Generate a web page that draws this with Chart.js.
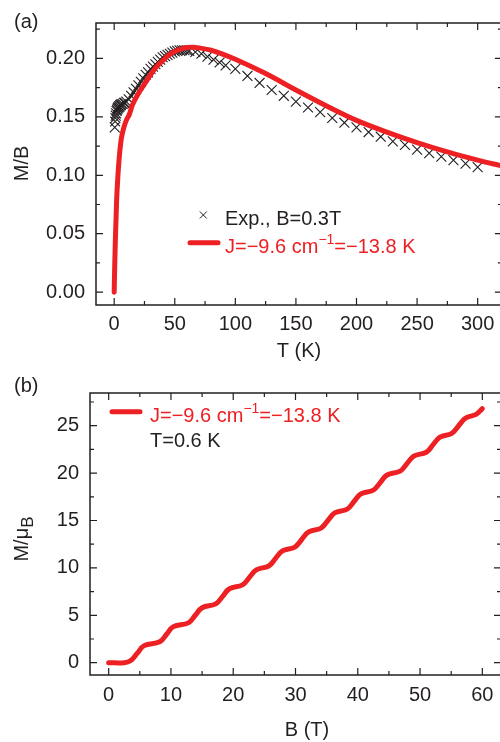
<!DOCTYPE html>
<html>
<head>
<meta charset="utf-8">
<script src="https://cdn.jsdelivr.net/npm/chart.js@4/dist/chart.umd.min.js"></script>
<style>
html, body { margin: 0; padding: 0; background: #fff; overflow: hidden; width: 500px; height: 742px; }
#wrapA { position: absolute; left: 0; top: 0; width: 510px; height: 370px; }
#wrapB { position: absolute; left: 0; top: 370px; width: 510px; height: 372px; }
</style>
</head>
<body>
<div id="wrapA"><canvas id="chartA" width="510" height="370"></canvas></div>
<div id="wrapB"><canvas id="chartB" width="510" height="372"></canvas></div>
<script>
// panel (a): M/B vs T
const expT = [0.5, 0.8, 1.0, 1.3, 1.6, 2.0, 2.4, 2.8, 3.2, 3.6, 4.0, 4.5, 5, 5.5, 6, 7, 8, 9, 10,
    12, 14, 16, 18, 20, 22, 24, 26, 28, 30, 32, 34, 36, 38, 40, 42, 44, 46, 48, 50, 52, 54, 56, 58, 60,
    62, 67, 72, 77, 82, 87, 92, 100, 110, 120, 130, 140, 150, 160, 170, 180, 190, 200,
    210, 220, 230, 240, 250, 260, 270, 280, 290, 300];
const expM = [0.141, 0.146, 0.149, 0.151, 0.153, 0.155, 0.156, 0.157, 0.158, 0.158, 0.159, 0.159, 0.160, 0.160, 0.161, 0.161, 0.162, 0.162, 0.163,
    0.165, 0.168, 0.171, 0.174, 0.177, 0.180, 0.183, 0.186, 0.188, 0.191, 0.193, 0.195, 0.197, 0.199, 0.201, 0.202, 0.203, 0.204, 0.205, 0.206, 0.2065, 0.207, 0.207, 0.207, 0.207,
    0.2065, 0.2055, 0.204, 0.2015, 0.199, 0.1965, 0.194, 0.191, 0.185, 0.179, 0.173, 0.168, 0.163, 0.158, 0.154, 0.149, 0.145, 0.141,
    0.137, 0.133, 0.129, 0.126, 0.122, 0.119, 0.116, 0.113, 0.110, 0.107];
const fitT = [0, 0.5, 1, 2, 3, 4, 5, 6, 8, 10, 12.5, 15, 20, 25, 30, 35, 40, 45, 50, 55, 60, 65, 70, 80, 90, 100,
    125, 150, 175, 200, 225, 250, 275, 300, 320];
const fitM = [0, 0.025, 0.045, 0.078, 0.098, 0.113, 0.124, 0.132, 0.141, 0.147, 0.152, 0.160, 0.170, 0.178, 0.186, 0.193, 0.198, 0.203, 0.206, 0.208, 0.2093, 0.2095, 0.209, 0.207, 0.2035, 0.1993,
    0.187, 0.173, 0.1595, 0.147, 0.137, 0.128, 0.120, 0.113, 0.108];
const tickTA = [0, 50, 100, 150, 200, 250, 300];
const tickMA = [0, 0.05, 0.10, 0.15, 0.20];

// panel (b): M/muB vs B
const fieldB = [0, 2.5, 3.5, 4.6, 5.7, 8.2, 9.3, 10.4, 12.8, 13.9, 15.0, 17.2, 18.3, 19.4, 21.5, 22.6, 23.7,
    25.7, 26.8, 27.9, 29.9, 31.0, 32.1, 34.1, 35.2, 36.3, 38.3, 39.4, 40.5, 42.5, 43.6, 44.7,
    46.8, 47.9, 49.0, 51.0, 52.1, 53.2, 55.1, 56.2, 57.3, 59.0, 60];
const magM = [0, 0, 0.2, 1, 1.8, 2.2, 3, 3.8, 4.2, 5, 5.8, 6.2, 7, 7.8, 8.2, 9, 9.8,
    10.2, 11, 11.8, 12.2, 13, 13.8, 14.2, 15, 15.8, 16.2, 17, 17.8, 18.2, 19, 19.8,
    20.2, 21, 21.8, 22.2, 23, 23.8, 24.2, 25, 25.8, 26.2, 26.8];
const tickBB = [0, 10, 20, 30, 40, 50, 60];
const tickMB = [0, 5, 10, 15, 20, 25];

const legendExp = 'Exp., B=0.3T';
const legendFitPre = 'J=\u22129.6 cm';
const legendFitSup = '\u22121';
const legendFitPost = '=\u221213.8 K';
const legendTemp = 'T=0.6 K';

const FAMILY = '"Liberation Sans", Arial, Helvetica, sans-serif';
const INK = '#231f20';
const RED = '#ed2024';

function font(size) { return size + 'px ' + FAMILY; }

// frame on four sides with inward major/minor ticks
const frameTicks = {
    id: 'frameTicks',
    afterDraw(chart, args, opts) {
        const ctx = chart.ctx;
        const a = chart.chartArea;
        const sx = chart.scales.x, sy = chart.scales.y;
        ctx.save();
        ctx.strokeStyle = INK;
        ctx.lineWidth = 1.5;
        ctx.strokeRect(a.left, a.top, a.right - a.left, a.bottom - a.top);
        ctx.lineWidth = 1.2;
        ctx.beginPath();
        const each = (scale, step, major, fn) => {
            let v = Math.ceil(scale.min / step) * step;
            for (; v <= scale.max + 1e-9; v += step) {
                const isMajor = Math.abs(v / major - Math.round(v / major)) < 1e-6;
                fn(scale.getPixelForValue(v), isMajor ? 7 : 4);
            }
        };
        each(sx, opts.xStep, opts.xMajor, (p, len) => {
            ctx.moveTo(p, a.bottom); ctx.lineTo(p, a.bottom - len);
            ctx.moveTo(p, a.top); ctx.lineTo(p, a.top + len);
        });
        each(sy, opts.yStep, opts.yMajor, (p, len) => {
            ctx.moveTo(a.left, p); ctx.lineTo(a.left + len, p);
            ctx.moveTo(a.right, p); ctx.lineTo(a.right - len, p);
        });
        ctx.stroke();
        ctx.restore();
    }
};

function drawFitLabel(ctx, x, y) {
    ctx.fillStyle = RED;
    ctx.font = font(20);
    ctx.fillText(legendFitPre, x, y);
    let w = ctx.measureText(legendFitPre).width;
    ctx.font = font(14);
    ctx.fillText(legendFitSup, x + w, y - 9);
    w += ctx.measureText(legendFitSup).width;
    ctx.font = font(20);
    ctx.fillText(legendFitPost, x + w, y);
}

function axisFixed(list, size, pad, fmt) {
    return {
        afterBuildTicks: s => { s.ticks = list.map(v => ({ value: v })); },
        afterFit: s => {
            if (s.isHorizontal()) s.height = size; else s.width = size;
        },
        grid: { display: false, drawTicks: false },
        border: { display: false },
        ticks: {
            font: { family: FAMILY, size: 20 },
            color: INK,
            padding: pad,
            autoSkip: false,
            maxRotation: 0,
            callback: fmt
        }
    };
}

const decorA = {
    id: 'decorA',
    afterDraw(chart) {
        const ctx = chart.ctx;
        ctx.save();
        ctx.fillStyle = INK;
        ctx.font = font(20);
        ctx.textBaseline = 'alphabetic';
        ctx.textAlign = 'left';
        ctx.fillText('(a)', 14, 28);
        ctx.textAlign = 'center';
        ctx.fillText('T (K)', 299, 357);
        ctx.save();
        ctx.translate(28, 163.5);
        ctx.rotate(-Math.PI / 2);
        ctx.fillText('M/B', 0, 0);
        ctx.restore();
        // legend
        ctx.textAlign = 'left';
        ctx.strokeStyle = INK;
        ctx.lineWidth = 1;
        ctx.beginPath();
        ctx.moveTo(199.8, 211.5); ctx.lineTo(206.8, 218.5);
        ctx.moveTo(206.8, 211.5); ctx.lineTo(199.8, 218.5);
        ctx.stroke();
        ctx.fillText(legendExp, 225, 225);
        ctx.strokeStyle = RED;
        ctx.lineWidth = 5;
        ctx.lineCap = 'round';
        ctx.beginPath();
        ctx.moveTo(190, 242.7); ctx.lineTo(218, 242.7);
        ctx.stroke();
        drawFitLabel(ctx, 225, 253.3);
        ctx.restore();
    }
};

const decorB = {
    id: 'decorB',
    afterDraw(chart) {
        const ctx = chart.ctx;
        ctx.save();
        ctx.fillStyle = INK;
        ctx.font = font(20);
        ctx.textBaseline = 'alphabetic';
        ctx.textAlign = 'left';
        ctx.fillText('(b)', 14, 21.5);
        ctx.textAlign = 'center';
        ctx.fillText('B (T)', 307, 366);
        ctx.save();
        ctx.translate(28, 169);
        ctx.rotate(-Math.PI / 2);
        ctx.textAlign = 'left';
        const w1 = ctx.measureText('M/\u03bc').width;
        ctx.font = font(17);
        const w2 = ctx.measureText('B').width;
        const x0 = -(w1 + w2) / 2;
        ctx.font = font(20);
        ctx.fillText('M/\u03bc', x0, 0);
        ctx.font = font(17);
        ctx.fillText('B', x0 + w1, 5);
        ctx.restore();
        // legend
        ctx.textAlign = 'left';
        ctx.strokeStyle = RED;
        ctx.lineWidth = 5;
        ctx.lineCap = 'round';
        ctx.beginPath();
        ctx.moveTo(112, 41.7); ctx.lineTo(140, 41.7);
        ctx.stroke();
        drawFitLabel(ctx, 150, 51.7);
        ctx.fillStyle = INK;
        ctx.font = font(20);
        ctx.fillText(legendTemp, 150, 77.3);
        ctx.restore();
    }
};

new Chart(document.getElementById('chartA'), {
    type: 'line',
    data: {
        datasets: [{
            label: 'fit',
            data: fitT.map((t, i) => ({ x: t, y: fitM[i] })),
            borderColor: RED,
            borderWidth: 5,
            borderCapStyle: 'round',
            pointRadius: 0,
            cubicInterpolationMode: 'monotone',
            order: 0
        }, {
            label: 'exp',
            data: expT.map((t, i) => ({ x: t, y: expM[i] })),
            showLine: false,
            pointStyle: 'crossRot',
            pointRadius: 7,
            pointBorderWidth: 1.1,
            borderColor: INK,
            backgroundColor: INK,
            order: 1
        }]
    },
    options: {
        responsive: false,
        devicePixelRatio: 1,
        animation: false,
        layout: { padding: { top: 22, right: 7.5, left: 0, bottom: 0 } },
        scales: {
            x: Object.assign({ type: 'linear', min: -15, max: 320 }, axisFixed(tickTA, 65, 7, v => String(v))),
            y: Object.assign({ type: 'linear', min: -0.011, max: 0.2303 }, axisFixed(tickMA, 96, 11, v => v.toFixed(2)))
        },
        plugins: {
            legend: { display: false },
            tooltip: { enabled: false },
            frameTicks: { xStep: 25, xMajor: 50, yStep: 0.025, yMajor: 0.05 }
        }
    },
    plugins: [frameTicks, decorA]
});

new Chart(document.getElementById('chartB'), {
    type: 'line',
    data: {
        datasets: [{
            label: 'fit',
            data: fieldB.map((b, i) => ({ x: b, y: magM[i] })),
            borderColor: RED,
            borderWidth: 5,
            borderCapStyle: 'round',
            pointRadius: 0,
            tension: 0.4
        }]
    },
    options: {
        responsive: false,
        devicePixelRatio: 1,
        animation: false,
        layout: { padding: { top: 17.3, right: 9, left: 0, bottom: 0 } },
        scales: {
            x: Object.assign({ type: 'linear', min: -3, max: 63 }, axisFixed(tickBB, 67, 8, v => String(v))),
            y: Object.assign({ type: 'linear', min: -1.3, max: 28.45 }, axisFixed(tickMB, 90, 11, v => String(v)))
        },
        plugins: {
            legend: { display: false },
            tooltip: { enabled: false },
            frameTicks: { xStep: 5, xMajor: 10, yStep: 2.5, yMajor: 5 }
        }
    },
    plugins: [frameTicks, decorB]
});
</script>
</body>
</html>
